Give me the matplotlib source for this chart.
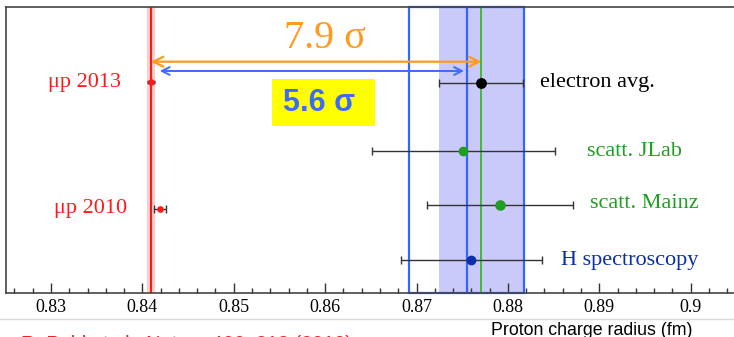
import matplotlib.pyplot as plt
from matplotlib.patches import Rectangle
from matplotlib.ticker import MultipleLocator

# proton radius values (fm)
mu_2013, mu_2013_err = 0.84094, 0.0004
mu_2010, mu_2010_err = 0.8419, 0.00066
e_avg, e_avg_err = 0.8771, 0.0046
jlab, jlab_err = 0.8751, 0.0100
mainz, mainz_err = 0.8791, 0.0080
h_spec, h_spec_err = 0.8760, 0.0077
h_line, h_line_err = 0.8755, 0.0063

# vertical rows (axes units, 0 = top)
row_2013 = 75
row_e = 76
row_jlab = 144
row_mainz = 198
row_2010 = 202
row_h = 253

red = "#ff1a1a"
orange = "#ff9a1e"
blue = "#3d6bff"
green = "#1f9e1f"
dblue = "#0a2fa8"
serif = "Liberation Serif"
sans = "Liberation Sans"

fig = plt.figure(figsize=(7.34, 3.37), dpi=100)
ax = fig.add_axes([6 / 734, 44 / 337, 736 / 734, 286 / 337])
ax.set_xlim(0.825076, 0.905618)
ax.set_ylim(286, 0)

# bands and lines
ax.axvspan(e_avg - e_avg_err, e_avg + e_avg_err, color="#c9c9fa", lw=0, zorder=1)
ax.add_patch(Rectangle((h_line - h_line_err, 0), 2 * h_line_err, 286, fill=False,
                       edgecolor="#3366ff", lw=1.6, zorder=2, clip_on=False))
ax.axvline(h_line, color="#3366ff", lw=1.6, zorder=2)
ax.axvline(e_avg, color="#33bb22", lw=1.3, zorder=2)
ax.axvspan(mu_2013 - mu_2013_err, mu_2013 + mu_2013_err, color="#ffcccc", lw=0, zorder=1)
ax.axvline(mu_2013, color=red, lw=1.5, zorder=2)

# data points
eb = dict(ecolor="#333333", elinewidth=1, capsize=3, capthick=1, zorder=4)
ax.errorbar(e_avg, row_e, xerr=e_avg_err, fmt="o", color="black", ms=6.8, **eb)
ax.errorbar(jlab, row_jlab, xerr=jlab_err, fmt="o", color=green, ms=6, **eb)
ax.errorbar(mainz, row_mainz, xerr=mainz_err, fmt="o", color=green, ms=6.6, **eb)
ax.errorbar(h_spec, row_h, xerr=h_spec_err, fmt="o", color=dblue, ms=6, **eb)
ax.errorbar(mu_2010, row_2010, xerr=mu_2010_err, fmt="o", color=red, ms=3.8, **eb)
ax.errorbar(mu_2013, row_2013, xerr=mu_2013_err, fmt="o", color=red, ms=3.8,
            ecolor="#222222", elinewidth=2.5, capsize=0, zorder=4)

# labels
lab = dict(fontsize=16, family=serif, va="center")
ax.text(0.83766, row_2013, "μp 2013", color=red, ha="right", **lab)
ax.text(0.83832, row_2010, "μp 2010", color=red, ha="right", **lab)
ax.text(0.88351, row_e, "electron avg.", color="black", ha="left", **lab)
ax.text(0.88866, row_jlab + 1, "scatt. JLab", color=green, ha="left", **lab)
ax.text(0.88898, row_mainz - 1, "scatt. Mainz", color=green, ha="left", **lab)
ax.text(0.88581, row_h, "H spectroscopy", color=dblue, ha="left", **lab)

# sigma arrows
ax.annotate("", xy=(mu_2013, 54.7), xytext=(e_avg, 54.7),
            arrowprops=dict(arrowstyle="<->", color=orange, lw=1.6,
                            mutation_scale=18, shrinkA=0, shrinkB=0), zorder=5)
ax.annotate("", xy=(mu_2010, 64), xytext=(h_line - 0.0003, 64),
            arrowprops=dict(arrowstyle="<->", color=blue, lw=1.4,
                            mutation_scale=14, shrinkA=0, shrinkB=0), zorder=5)
ax.text(0.8600, 31, "7.9 σ", color=orange, fontsize=29, family=serif,
        ha="center", va="center")
ax.add_patch(Rectangle((0.85415, 72.3), 0.0113, 46.7, color="#ffff00", lw=0, zorder=3))
ax.text(0.8593, 96, "5.6 σ", color=blue, fontsize=22, family=sans, weight="bold",
        ha="center", va="center", zorder=4)

# axes styling
for s in ["left", "top", "bottom"]:
    ax.spines[s].set_color("#444444")
    ax.spines[s].set_linewidth(1.2)
ax.spines["right"].set_visible(False)
ax.set_yticks([])
ax.xaxis.set_major_locator(MultipleLocator(0.01))
ax.xaxis.set_minor_locator(MultipleLocator(0.002))
ax.tick_params(axis="x", which="major", direction="in", length=7, width=1,
               color="#333333", pad=4, labelsize=13)
ax.tick_params(axis="x", which="minor", direction="in", length=3.5, width=1,
               color="#333333")
ax.set_xticks([0.83, 0.84, 0.85, 0.86, 0.87, 0.88, 0.89, 0.90])
ax.set_xticklabels(["0.83", "0.84", "0.85", "0.86", "0.87", "0.88", "0.89", "0.9"],
                   family=serif)

# footer
fig.add_artist(plt.Line2D([0, 1], [18 / 337, 18 / 337], color="#d8d8d8", lw=1))
fig.text(490.7 / 734, 2 / 337, "Proton charge radius (fm)", fontsize=12.8,
         family=sans, color="black", ha="left", va="baseline")
fig.text(21 / 734, -12.5 / 337, "R. Pohl et al., Nature 466, 213 (2010)",
         fontsize=14.3, family=sans, color=red, ha="left", va="baseline")

fig.savefig("out.png", dpi=100)
